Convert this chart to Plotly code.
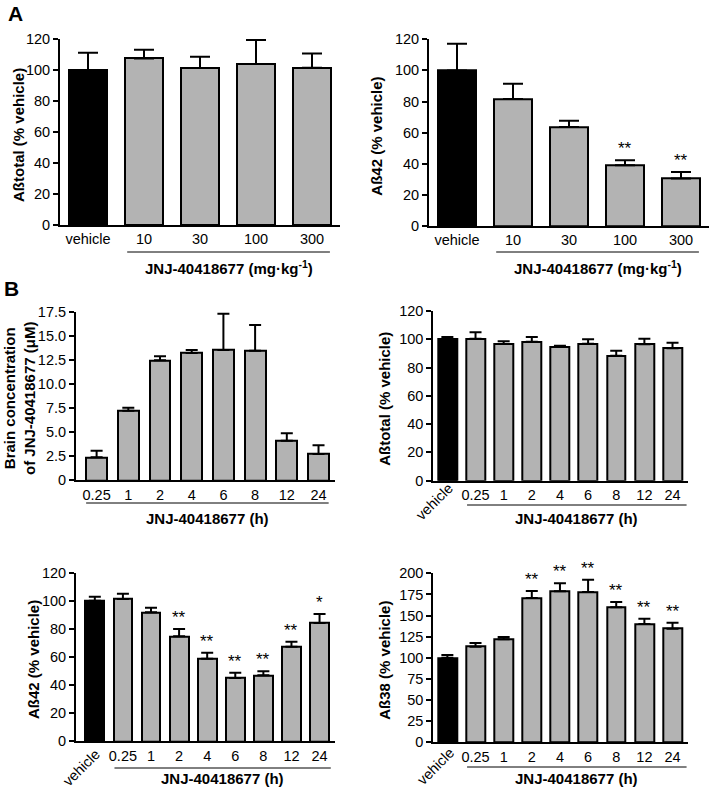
import plotly.graph_objects as go

# panel A : dose response
a_cats = ["vehicle", "10", "30", "100", "300"]
a_total = [100, 107.5, 101.3, 103.9, 101.5]
a_total_err = [11.2, 5.6, 7.3, 15.5, 9.2]
a_42 = [100, 81.6, 63.6, 39.0, 30.6]
a_42_err = [17.2, 9.9, 4.1, 3.2, 4.1]
a_42_sig = ["", "", "", "**", "**"]

# panel B : time course
b_hours = ["0.25", "1", "2", "4", "6", "8", "12", "24"]
b_conc = [2.39, 7.23, 12.46, 13.21, 13.52, 13.45, 4.11, 2.73]
b_conc_err = [0.68, 0.31, 0.41, 0.31, 3.78, 2.67, 0.77, 0.90]
b_cats = ["vehicle"] + b_hours
b_total = [100, 100.4, 96.7, 98.3, 94.5, 96.9, 88.4, 96.5, 93.6]
b_total_err = [1.6, 4.5, 1.9, 3.3, 1.0, 3.1, 3.5, 3.9, 4.0]
b_42 = [100, 101.3, 91.8, 74.7, 58.8, 45.1, 47.0, 67.3, 84.2]
b_42_err = [2.8, 3.7, 3.3, 5.2, 4.3, 3.7, 2.8, 3.6, 6.4]
b_42_sig = ["", "", "", "**", "**", "**", "**", "**", "*"]
b_38 = [100, 113.2, 121.9, 170.8, 178.7, 177.9, 159.8, 140.0, 134.4]
b_38_err = [3.2, 4.3, 2.7, 8.2, 9.5, 14.6, 6.2, 6.3, 7.1]
b_38_sig = ["", "", "", "**", "**", "**", "**", "**", "**"]

W, H = 710, 788
FONT = "Liberation Sans, Arial, sans-serif"
GRAY = "#b3b3b3"

def fx(p):
    return p / W

def fy(p):
    return 1 - p / H

# (x0, x1, ytop, ybottom) in pixels, x range, y range
panels = [
    dict(cats=a_cats, y=a_total, err=a_total_err, sig=None, box=(60, 340, 39, 225),
         xr=[-0.5, 4.5], yr=[0, 120], dt=20, cap=10, bw=0.67,
         ytitle="Aßtotal (% vehicle)", ytx=18, xtitle="JNJ-40418677 (mg·kg<sup>-1</sup>)",
         line=(0.70, 4.32), liney=252, ttly=267, rot=False),
    dict(cats=a_cats, y=a_42, err=a_42_err, sig=a_42_sig, box=(429, 709, 39.3, 226),
         xr=[-0.5, 4.5], yr=[0, 120], dt=20, cap=10, bw=0.67,
         ytitle="Aß42 (% vehicle)", ytx=377, xtitle="JNJ-40418677 (mg·kg<sup>-1</sup>)",
         line=(0.70, 4.32), liney=252, ttly=267, rot=False),
    dict(cats=b_hours, y=b_conc, err=b_conc_err, sig=None, box=(76, 335, 311.7, 480.3),
         xr=[-0.65, 7.52], yr=[0, 17.5], dt=2.5, cap=6, bw=0.66,
         ytitle="Brain concentration<br>of JNJ-40418677 (μM)", ytx=19, xtitle="JNJ-40418677 (h)",
         line=(-0.33, 7.32), liney=503, ttly=518, rot=False),
    dict(cats=b_cats, y=b_total, err=b_total_err, sig=None, box=(433.3, 688, 311, 480.7),
         xr=[-0.5, 8.55], yr=[0, 120], dt=20, cap=6, bw=0.67,
         ytitle="Aßtotal (% vehicle)", ytx=385, xtitle="JNJ-40418677 (h)",
         line=(0.7, 8.5), liney=505, ttly=518, rot=True, vx=434, vy=502),
    dict(cats=b_cats, y=b_42, err=b_42_err, sig=b_42_sig, box=(76, 335, 572.7, 741.3),
         xr=[-0.67, 8.55], yr=[0, 120], dt=20, cap=6, bw=0.67,
         ytitle="Aß42 (% vehicle)", ytx=33, xtitle="JNJ-40418677 (h)",
         line=(0.7, 8.4), liney=768, ttly=None, rot=True, vx=81, vy=768),
    dict(cats=b_cats, y=b_38, err=b_38_err, sig=b_38_sig, box=(433.3, 688, 573.3, 742.3),
         xr=[-0.5, 8.55], yr=[0, 200], dt=25, cap=6, bw=0.67,
         ytitle="Aß38 (% vehicle)", ytx=385, xtitle="JNJ-40418677 (h)",
         line=(0.7, 8.5), liney=767, ttly=None, rot=True, vx=436, vy=766),
]

fig = go.Figure()
annotations = []
shapes = []

for i, p in enumerate(panels, start=1):
    xs = list(range(len(p["cats"])))
    colors = ["black" if c == "vehicle" else GRAY for c in p["cats"]]
    xa, ya = f"x{i}", f"y{i}"
    fig.add_trace(go.Bar(
        x=xs, y=p["y"], width=p["bw"], xaxis=xa, yaxis=ya,
        marker=dict(color=colors, line=dict(color="black", width=2)),
        error_y=dict(type="data", array=p["err"], arrayminus=[0] * len(xs), symmetric=False,
                     color="black", thickness=2, width=p["cap"]),
        showlegend=False, hoverinfo="skip",
    ))
    x0, x1, yt, yb = p["box"]
    sfx = "" if i == 1 else str(i)
    if p["rot"]:
        tv = [x for x, c in zip(xs, p["cats"]) if c != "vehicle"]
        tt = [c for c in p["cats"] if c != "vehicle"]
    else:
        tv, tt = xs, p["cats"]
    fig.layout["xaxis" + sfx] = dict(
        domain=[fx(x0), fx(x1)], range=p["xr"], anchor=ya, showline=True, linecolor="black",
        linewidth=2, ticks="", tickvals=tv, ticktext=tt, showgrid=False, zeroline=False,
        tickfont=dict(family=FONT, size=14.5, color="black"), fixedrange=True, automargin=False,
    )
    yvals = []
    v = p["yr"][0]
    while v <= p["yr"][1] + 1e-9:
        yvals.append(v)
        v += p["dt"]
    if p["dt"] == 2.5:
        ytext = ["0"] + [f"{t:.1f}" for t in yvals[1:]]
    else:
        ytext = [f"{t:g}" for t in yvals]
    fig.layout["yaxis" + sfx] = dict(
        domain=[fy(yb), fy(yt)], range=p["yr"], anchor=xa, showline=True, linecolor="black",
        linewidth=2, ticks="outside", ticklen=5, tickwidth=2, tickcolor="black",
        tickvals=yvals, ticktext=ytext, showgrid=False, zeroline=False,
        tickfont=dict(family=FONT, size=14.5, color="black"), fixedrange=True, automargin=False,
    )
    # significance stars
    if p["sig"]:
        for xi, s, yv, e in zip(xs, p["sig"], p["y"], p["err"]):
            if s:
                annotations.append(dict(x=xi, y=yv + e, xref=xa, yref=ya, text=s, showarrow=False,
                                        yanchor="bottom", yshift=0,
                                        font=dict(family=FONT, size=17, color="black")))
    # rotated vehicle label
    if p["rot"]:
        annotations.append(dict(x=fx(p["vx"]), y=fy(p["vy"]), xref="paper", yref="paper",
                                text="vehicle", textangle=-45, showarrow=False,
                                xanchor="center", yanchor="middle",
                                font=dict(family=FONT, size=14.5, color="black")))
    # y title
    annotations.append(dict(x=fx(p["ytx"]), y=fy((yt + yb) / 2 + 3), xref="paper", yref="paper",
                            text="<b>" + p["ytitle"] + "</b>", textangle=-90, showarrow=False,
                            xanchor="center", yanchor="middle",
                            font=dict(family=FONT, size=15, color="black")))
    # treatment underline and title
    shapes.append(dict(type="line", xref=xa, yref="paper", x0=p["line"][0], x1=p["line"][1],
                       y0=fy(p["liney"]), y1=fy(p["liney"]), line=dict(color="black", width=1)))
    xmid = (p["line"][0] + p["line"][1]) / 2
    if p["ttly"] is None:
        ty, yanc = 0, "bottom"
    else:
        ty, yanc = fy(p["ttly"]), "middle"
    annotations.append(dict(x=xmid, y=ty, xref=xa, yref="paper",
                            text="<b>" + p["xtitle"] + "</b>", showarrow=False,
                            xanchor="center", yanchor=yanc, borderpad=0,
                            font=dict(family=FONT, size=15, color="black")))

annotations.append(dict(x=fx(6), y=fy(14), xref="paper", yref="paper", text="<b>A</b>",
                        showarrow=False, xanchor="left", yanchor="middle",
                        font=dict(family=FONT, size=21, color="black")))
annotations.append(dict(x=fx(2), y=fy(288), xref="paper", yref="paper", text="<b>B</b>",
                        showarrow=False, xanchor="left", yanchor="middle",
                        font=dict(family=FONT, size=21, color="black")))

fig.update_layout(
    width=W, height=H, margin=dict(l=0, r=0, t=0, b=0, autoexpand=False),
    paper_bgcolor="white", plot_bgcolor="white",
    annotations=annotations, shapes=shapes, bargap=0,
    font=dict(family=FONT, color="black"),
)

# page body has a default 8px margin; drop it so the figure fills the window
fig.write_html("out.html", config={"displayModeBar": False},
               post_script="document.body.style.margin='0';")
